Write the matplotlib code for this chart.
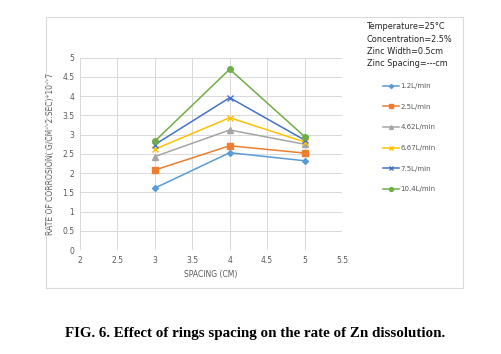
import matplotlib.pyplot as plt
from matplotlib.patches import Rectangle

spacing = [3, 4, 5]
flow_labels = ["1.2L/min", "2.5L/min", "4.62L/min", "6.67L/min", "7.5L/min", "10.4L/min"]
rate_12 = [1.61, 2.53, 2.32]
rate_25 = [2.08, 2.71, 2.52]
rate_462 = [2.43, 3.12, 2.75]
rate_667 = [2.62, 3.44, 2.81]
rate_75 = [2.74, 3.96, 2.86]
rate_104 = [2.83, 4.70, 2.95]

series = [rate_12, rate_25, rate_462, rate_667, rate_75, rate_104]
colors = ["#5b9bd5", "#ed7d31", "#a5a5a5", "#ffc000", "#4472c4", "#70ad47"]
markers = ["D", "s", "^", "x", "x", "o"]
msizes = [3, 4, 4, 4, 4, 4]

text_grey = "#595959"

fig = plt.figure(figsize=(5.02, 3.54), dpi=100)
fig.patches.append(Rectangle((46 / 502, 1 - 288 / 354), (463 - 46) / 502, (288 - 17) / 354,
                             transform=fig.transFigure, fill=False, edgecolor="#d9d9d9",
                             linewidth=0.8))

ax = fig.add_axes([80 / 502, 1 - 250 / 354, 262 / 502, (250 - 57.7) / 354])
for vals, lab, c, m, ms in zip(series, flow_labels, colors, markers, msizes):
    ax.plot(spacing, vals, color=c, marker=m, markersize=ms, linewidth=1.1,
            markeredgewidth=1, label=lab)

ax.set_xlim(2, 5.5)
ax.set_ylim(0, 5)
ax.set_xticks([2, 2.5, 3, 3.5, 4, 4.5, 5, 5.5])
ax.set_xticklabels(["2", "2.5", "3", "3.5", "4", "4.5", "5", "5.5"])
ax.set_yticks([0, 0.5, 1, 1.5, 2, 2.5, 3, 3.5, 4, 4.5, 5])
ax.set_yticklabels(["0", "0.5", "1", "1.5", "2", "2.5", "3", "3.5", "4", "4.5", "5"])
ax.grid(True, color="#d9d9d9", linewidth=0.7)
ax.set_axisbelow(True)
for s in ax.spines.values():
    s.set_visible(False)
ax.tick_params(length=0, labelsize=5.5, colors=text_grey, pad=4)
ax.set_xlabel("SPACING (CM)", fontsize=5.5, color=text_grey, labelpad=4)
ax.set_ylabel("RATE OF CORROSION( G/CM^2.SEC)*10^7", fontsize=5.5, color=text_grey, labelpad=5)

info = "Temperature=25°C\nConcentration=2.5%\nZinc Width=0.5cm\nZinc Spacing=---cm"
fig.text(367 / 502, 1 - 22 / 354, info, fontsize=5.9, va="top", ha="left",
         linespacing=1.5, color="#222222")

ax.legend(loc="upper left", bbox_to_anchor=(377 / 502, 1 - 77 / 354),
          bbox_transform=fig.transFigure, frameon=False, fontsize=5,
          labelcolor=text_grey, handlelength=2.2, labelspacing=2.1,
          markerscale=0.7, handletextpad=0.3)

fig.text(255 / 502, 1 - 333 / 354, "FIG. 6. Effect of rings spacing on the rate of Zn dissolution.",
         family="Liberation Serif", fontweight="bold", fontsize=10.8, ha="center", va="center")

plt.savefig("out.png", dpi=100)
